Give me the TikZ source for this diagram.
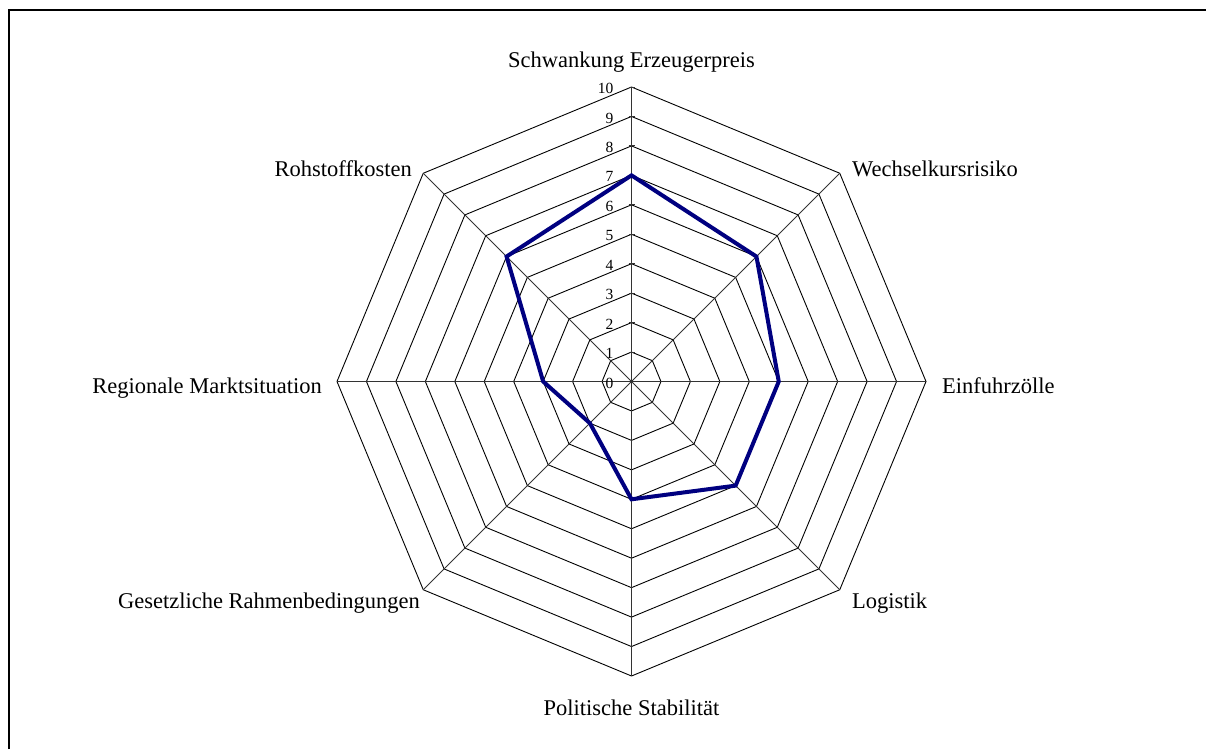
\documentclass[tikz,border=0pt]{standalone}
\usepackage{fontspec}
\setmainfont{Liberation Serif}
\usetikzlibrary{calc}
\begin{document}
\begin{tikzpicture}[x=1pt,y=-1pt,
  gridline/.style={line width=0.9pt,black},
  spoke/.style={line width=0.9pt,black!80},
  series/.style={line width=4pt,draw={rgb,255:red,0;green,0;blue,128},line join=miter},
  cat/.style={inner sep=0pt,font=\fontsize{22.5}{27}\selectfont},
  num/.style={inner sep=0pt,anchor=east,font=\fontsize{15.5}{17}\selectfont},
  frame/.style={line width=2pt,black}]
\useasboundingbox (0,0) rectangle (1206,749);
\draw[frame] (9,749) -- (9,10) -- (1206,10);
\coordinate (c) at (631.5,381.5);
\def\u{29.45}
% rings
\foreach \k in {1,...,10}{
  \draw[gridline] ($(c)+(90:\k*\u)$) \foreach \i in {1,...,7}{ -- ($(c)+(90-45*\i:\k*\u)$)} -- cycle;
}
% spokes
\foreach \i in {0,...,7}{
  \coordinate (v\i) at ($(c)+(45*\i-90:10*\u)$);
  \draw[spoke] (c) -- (v\i);
}
% ticks and numbers
\foreach \k in {0,...,10}{
  \draw[spoke] ($(c)+(-3,-\k*\u)$) -- ($(c)+(3,-\k*\u)$);
  \node[num] (n\k) at ($(c)+(-18,-\k*\u+1.5)$) {\k};
}
% data (y axis points down, so visual clockwise = increasing angle)
\draw[series] ($(c)+(-90:7*\u)$) -- ($(c)+(-45:6*\u)$) -- ($(c)+(0:5*\u)$) -- ($(c)+(45:5*\u)$)
  -- ($(c)+(90:4*\u)$) -- ($(c)+(135:2*\u)$) -- ($(c)+(180:3*\u)$) -- ($(c)+(225:6*\u)$) -- cycle;
% category labels
\node[cat,anchor=base] (l0) at (631.5,68) {Schwankung Erzeugerpreis};
\node[cat,anchor=base west] (l1) at (852,176) {Wechselkursrisiko};
\node[cat,anchor=base west] (l2) at (942,393) {Einfuhrzölle};
\node[cat,anchor=base west] (l3) at (852,608) {Logistik};
\node[cat,anchor=base] (l4) at (631.5,715) {Politische Stabilität};
\node[cat,anchor=base east] (l5) at (420,608) {Gesetzliche Rahmenbedingungen};
\node[cat,anchor=base east] (l6) at (322,393) {Regionale Marktsituation};
\node[cat,anchor=base east] (l7) at (412,176) {Rohstoffkosten};
\end{tikzpicture}
\end{document}
